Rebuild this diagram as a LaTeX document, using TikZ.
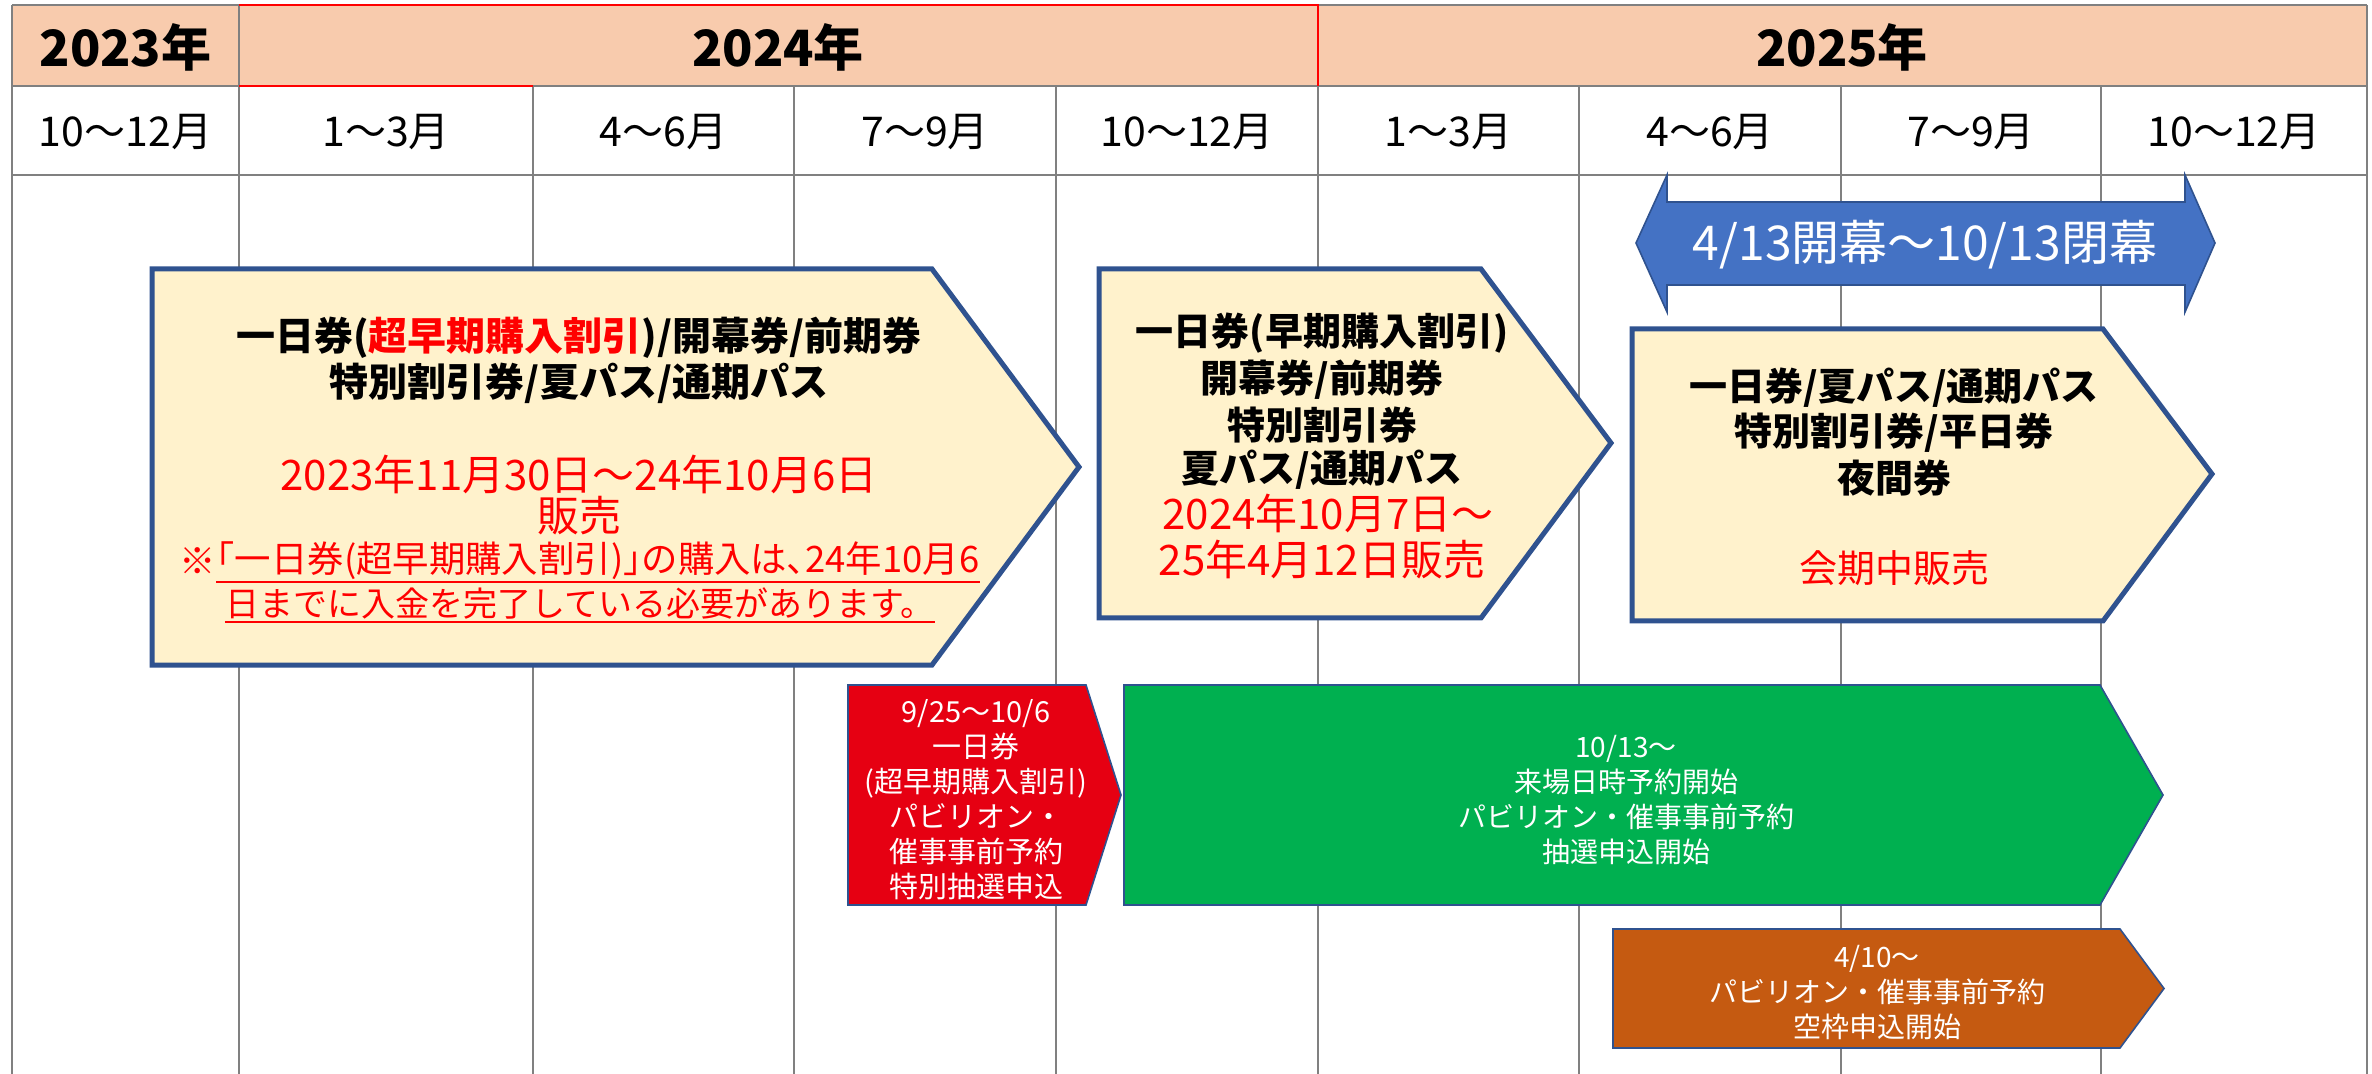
\documentclass[tikz,border=0pt]{standalone}
\usepackage{fontspec}
\setmainfont{Noto Sans CJK JP}
\definecolor{peach}{HTML}{F8CBAD}
\definecolor{gridgray}{HTML}{808080}
\definecolor{boxblue}{HTML}{2F528F}
\definecolor{cream}{HTML}{FFF2CC}
\definecolor{arrowblue}{HTML}{4472C4}
\definecolor{tred}{HTML}{FF0000}
\definecolor{boxred}{HTML}{E60012}
\definecolor{boxgreen}{HTML}{00B050}
\definecolor{boxorange}{HTML}{C55A11}
\newcommand\myfs[2]{\fontsize{#1}{#2}\selectfont}
\begin{document}
\begin{tikzpicture}[x=0.5pt,y=-0.5pt,
  gridline/.style={draw=gridgray, line width=1pt},
  redline/.style={draw=tred, line width=1pt},
  bigbox/.style={draw=boxblue, line width=2.5pt, fill=cream, line join=miter},
  smallbox/.style={draw=boxblue, line width=0.8pt, line join=miter},
  lbl/.style={inner sep=0pt, align=center},
  yearlbl/.style={lbl, font=\myfs{25}{30}\bfseries},
  monthlbl/.style={lbl, font=\myfs{20.5}{24}},
  blk/.style={lbl, font=\myfs{19.5}{23}\bfseries},
  blkb/.style={lbl, font=\myfs{19}{23}\bfseries},
  redbig/.style={lbl, text=tred, font=\myfs{21}{24}},
  rednote/.style={lbl, text=tred, font=\myfs{17}{20}},
  whitetxt/.style={lbl, text=white},
  ul/.style={draw=tred, line width=1pt}
]
\useasboundingbox (0,0) rectangle (2372,1074);
\fill[white] (0,0) rectangle (2372,1074);
\fill[peach] (12,5) rectangle (2367,86);
% grid
\draw[gridline] (12,5) -- (2367,5);
\draw[gridline] (12,86) -- (2367,86);
\draw[gridline] (12,175) -- (2367,175);
\foreach \x in {12,239,1318,2367} \draw[gridline] (\x,5) -- (\x,1080);
\foreach \x in {533,794,1056,1579,1841,2101} \draw[gridline] (\x,86) -- (\x,1080);
\draw[redline] (239,5) -- (1318,5) -- (1318,86);
\draw[redline] (239,86) -- (533,86);
% header labels
\node[yearlbl] (y23) at (125.5,47) {2023年};
\node[yearlbl] (y24) at (778,47) {2024年};
\node[yearlbl] (y25) at (1842,47) {2025年};
\node[monthlbl] (m1) at (125.5,132) {10～12月};
\node[monthlbl] (m2) at (386,132) {1～3月};
\node[monthlbl] (m3) at (663.5,132) {4～6月};
\node[monthlbl] (m4) at (925,132) {7～9月};
\node[monthlbl] (m5) at (1187,132) {10～12月};
\node[monthlbl] (m6) at (1448.5,132) {1～3月};
\node[monthlbl] (m7) at (1710,132) {4～6月};
\node[monthlbl] (m8) at (1971,132) {7～9月};
\node[monthlbl] (m9) at (2234,132) {10～12月};
% blue double arrow
\draw[fill=arrowblue, draw=boxblue, line width=0.8pt, line join=miter]
  (1636,243) -- (1667,175) -- (1667,202) -- (2185,202) -- (2185,175) -- (2215,243)
  -- (2185,312) -- (2185,285) -- (1667,285) -- (1667,312) -- cycle;
\node[whitetxt, font=\myfs{24}{28}] (period) at (1925,245) {4/13開幕～10/13閉幕};
% big boxes
\draw[bigbox] (152,269) -- (932,269) -- (1079,467) -- (932,665) -- (152,665) -- cycle;
\draw[bigbox] (1099,269) -- (1481,269) -- (1611,443) -- (1481,618) -- (1099,618) -- cycle;
\draw[bigbox] (1632,329) -- (2103,329) -- (2212,474) -- (2103,621) -- (1632,621) -- cycle;
% small boxes
\draw[smallbox, fill=boxred] (848,685) -- (1086,685) -- (1121,795) -- (1086,905) -- (848,905) -- cycle;
\draw[smallbox, fill=boxgreen] (1124,685) -- (2100,685) -- (2163,795) -- (2100,905) -- (1124,905) -- cycle;
\draw[smallbox, fill=boxorange] (1613,929) -- (2120,929) -- (2164,988.5) -- (2120,1048) -- (1613,1048) -- cycle;
% box 1 text
\node[blk] (b1a) at (579,338) {一日券(\textcolor{tred}{超早期購入割引})/開幕券/前期券};
\node[blk] (b1b) at (579,383) {特別割引券/夏パス/通期パス};
\node[redbig] (b1c) at (579,474) {2023年11月30日～24年10月6日};
\node[redbig] (b1d) at (579,516) {販売};
\node[rednote, font=\myfs{18.2}{21}] (b1e) at (598,561) {｢一日券(超早期購入割引)｣の購入は､24年10月6};
\node[rednote, font=\myfs{18.2}{21}, anchor=east] (b1m) at (b1e.west) {※};
\node[rednote] (b1f) at (580,604) {日までに入金を完了している必要があります。};
\draw[ul] ([yshift=-1pt]b1e.south west) -- ([yshift=-1pt]b1e.south east);
\draw[ul] ([yshift=-1pt]b1f.south west) -- ([yshift=-1pt]b1f.south east);
% box 2 text
\node[blkb] (b2a) at (1322,333) {一日券(早期購入割引)};
\node[blkb] (b2b) at (1322,380) {開幕券/前期券};
\node[blkb] (b2c) at (1322,425) {特別割引券};
\node[blkb] (b2d) at (1322,470) {夏パス/通期パス};
\node[redbig] (b2e) at (1328,513) {2024年10月7日～};
\node[redbig] (b2f) at (1322,560) {25年4月12日販売};
% box 3 text
\node[blkb] (b3a) at (1894,388) {一日券/夏パス/通期パス};
\node[blkb] (b3b) at (1894,433) {特別割引券/平日券};
\node[blkb] (b3c) at (1894,478) {夜間券};
\node[redbig, font=\myfs{19}{23}] (b3d) at (1894,568) {会期中販売};
% small box texts
\node[whitetxt, font=\myfs{14.5}{17.5}] (rt) at (976,800)
  {9/25～10/6\\一日券\\(超早期購入割引)\\パビリオン・\\催事事前予約\\特別抽選申込};
\node[whitetxt, font=\myfs{14}{17.5}] (gt) at (1626,800)
  {10/13～\\来場日時予約開始\\パビリオン・催事事前予約\\抽選申込開始};
\node[whitetxt, font=\myfs{14}{17.5}] (ot) at (1877,993)
  {4/10～\\パビリオン・催事事前予約\\空枠申込開始};
\end{tikzpicture}
\end{document}
